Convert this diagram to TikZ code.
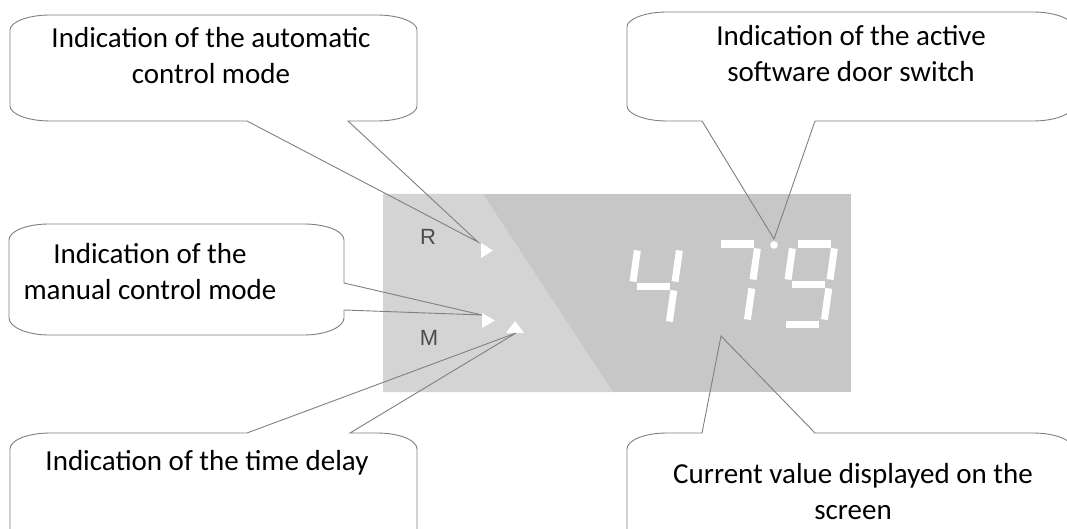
\documentclass[tikz,border=0pt]{standalone}
\usepackage{fontspec}
\setmainfont{Carlito}
\newfontfamily\panelfont{Liberation Sans}
\usetikzlibrary{positioning}
\tikzset{>=stealth}
\definecolor{panellight}{RGB}{212,212,212}
\definecolor{paneldark}{RGB}{199,199,199}
\definecolor{calloutline}{RGB}{128,128,128}
\definecolor{panelletter}{RGB}{75,75,75}
\tikzset{
	% callout outline
	callout/.style={draw=calloutline,line width=0.9pt,line join=miter},
	% callout text
	calltext/.style={align=center,font=\fontsize{29}{36}\selectfont,inner sep=0pt},
	% display segments
	seg/.style={draw=white,line width=7pt,shorten >=4.5pt,shorten <=4.5pt},
	indic/.style={fill=white,draw=none},
	letter/.style={text=panelletter,font=\panelfont\fontsize{22}{22}\selectfont},
}

\begin{document}
\begin{tikzpicture}[x=1pt,y=-1pt]
\useasboundingbox (0,0) rectangle (1067,529);
\clip (0,0) rectangle (1067,529);
\fill[white] (0,0) rectangle (1067,529);
% the display panel
\fill[paneldark] (383,194) rectangle (851,392);
\fill[panellight] (383,194) -- (483,194) -- (613,392) -- (383,392) -- cycle;
% mode letters
\node[letter] (rlet) at (428,237) {R};
\node[letter] (mlet) at (429,338) {M};
% the indicator triangles
\fill[indic] (481,243) -- (493,250.5) -- (481,258) -- cycle;
\fill[indic] (482,313) -- (495,320.5) -- (482,328) -- cycle;
\fill[indic] (515,321) -- (524,333) -- (506,333) -- cycle;
% the digits 4, 7 and 9
\begin{scope}[shift={(638,246)},xslant=0.14]
  \foreach \xa/\ya/\xb/\yb in {0/0/0/40, 0/40/42/40, 42/0/42/40, 42/40/42/80}
    \draw[seg] (\xa,\ya) -- (\xb,\yb);
\end{scope}
\begin{scope}[shift={(716,244)},xslant=0.14]
  \foreach \xa/\ya/\xb/\yb in {0/0/42/0, 42/0/42/40, 42/40/42/80}
    \draw[seg] (\xa,\ya) -- (\xb,\yb);
\end{scope}
\begin{scope}[shift={(793,244)},xslant=0.14]
  \foreach \xa/\ya/\xb/\yb in {0/0/42/0, 0/0/0/40, 42/0/42/40, 0/40/42/40, 42/40/42/80, 0/80/42/80}
    \draw[seg] (\xa,\ya) -- (\xb,\yb);
\end{scope}
\fill[white] (774,245) circle (3.8);
% where the callouts point
\coordinate (rtip) at (478,242);
\coordinate (mtip) at (482,315);
\coordinate (dtip) at (516,333);
\coordinate (dottip) at (774,239);
\coordinate (valtip) at (721,336);
% callout texts
\node[calltext] (auto) at (211,56) {Indication of the automatic\\control mode};
\node[calltext] (door) at (851,54) {Indication of the active\\software door switch};
\node[calltext] (manual) at (150,272) {Indication of the\\manual control mode};
\node[calltext] (delay) at (207,463) {Indication of the time delay};
\node[calltext] (value) at (853,492) {Current value displayed on the\\screen};
% callout outlines
\draw[callout] (10,30) .. controls +(0,-8) and +(-22,0) .. (50,15) -- (377,15)
  .. controls +(22,0) and +(0,-8) .. (417,30) -- (417,106)
  .. controls +(0,8) and +(22,0) .. (377,121) -- (348,121) -- (rtip) -- (247,121) -- (50,121)
  .. controls +(-22,0) and +(0,8) .. (10,106) -- cycle;
\draw[callout] (627,27) .. controls +(0,-8) and +(-22,0) .. (667,12) -- (1033,12)
  .. controls +(22,0) and +(0,-8) .. (1073,27) -- (1073,106)
  .. controls +(0,8) and +(22,0) .. (1033,121) -- (815,121) -- (dottip) -- (702,121) -- (667,121)
  .. controls +(-22,0) and +(0,8) .. (627,106) -- cycle;
\draw[callout] (9,240) .. controls +(0,-9) and +(-22,0) .. (49,224) -- (304,224)
  .. controls +(22,0) and +(0,-9) .. (344,240) -- (344,283) -- (mtip) -- (344,310) -- (344,318)
  .. controls +(0,9) and +(22,0) .. (304,335) -- (49,335)
  .. controls +(-22,0) and +(0,9) .. (9,318) -- cycle;
\draw[callout] (10,449) .. controls +(0,-9) and +(-22,0) .. (50,433) -- (247,433) -- (dtip) -- (350,433) -- (377,433)
  .. controls +(22,0) and +(0,-9) .. (417,449) -- (417,529)
  .. controls +(0,9) and +(22,0) .. (377,545) -- (50,545)
  .. controls +(-22,0) and +(0,9) .. (10,529) -- cycle;
\draw[callout] (627,449) .. controls +(0,-9) and +(-22,0) .. (667,433) -- (702,433) -- (valtip) -- (815,433) -- (1033,433)
  .. controls +(22,0) and +(0,-9) .. (1073,449) -- (1073,529)
  .. controls +(0,9) and +(22,0) .. (1033,545) -- (667,545)
  .. controls +(-22,0) and +(0,9) .. (627,529) -- cycle;
\end{tikzpicture}
\end{document}
